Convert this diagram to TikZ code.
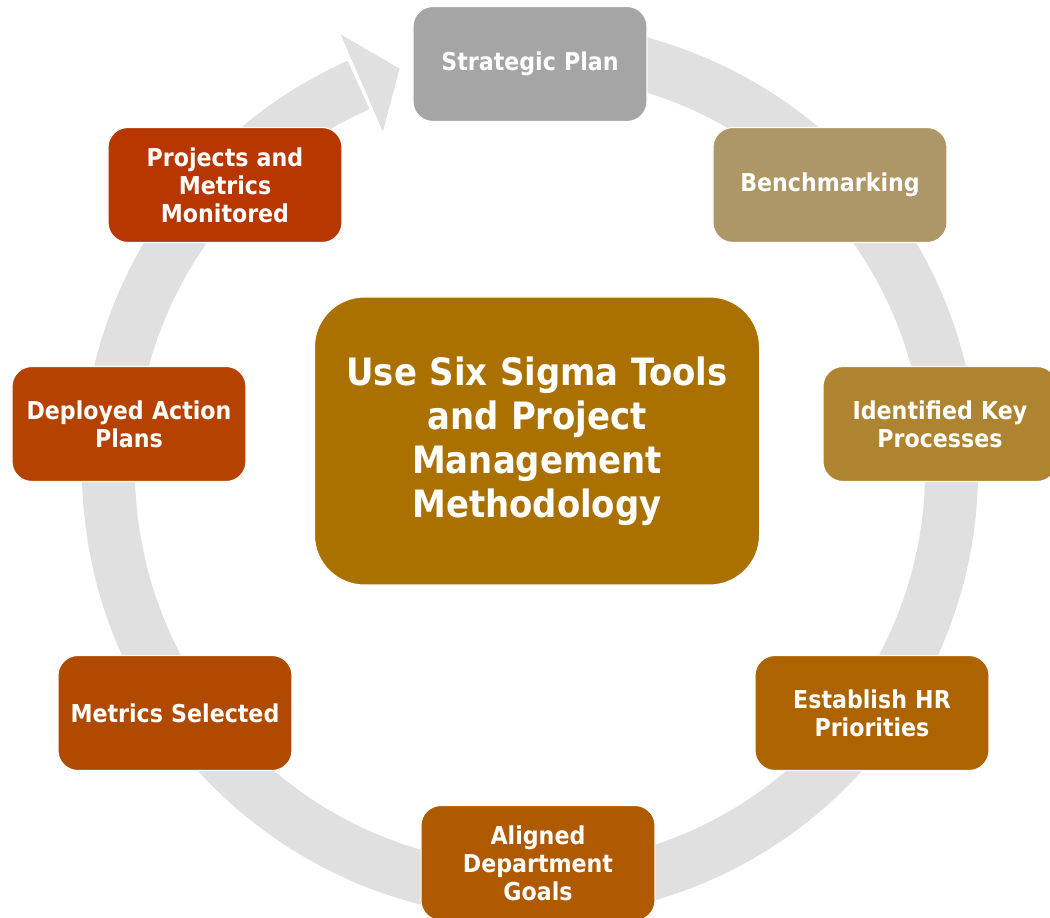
\documentclass[tikz,border=0pt]{standalone}
\usepackage{fontspec}
\setmainfont{DejaVu Sans Condensed}
\usetikzlibrary{shapes.geometric,arrows,positioning}
\definecolor{ringgray}{HTML}{E0E0E0}
\definecolor{plangray}{HTML}{A5A5A5}
\definecolor{benchtan}{HTML}{AD9767}
\definecolor{keyproc}{HTML}{AF8430}
\definecolor{hrprio}{HTML}{AD6400}
\definecolor{deptgoal}{HTML}{AF5900}
\definecolor{metsel}{HTML}{B04A00}
\definecolor{actplan}{HTML}{B54200}
\definecolor{monitor}{HTML}{B83600}
\definecolor{coregold}{HTML}{AA7100}

\begin{document}
\begin{tikzpicture}[x=0.025cm,y=0.025cm]
\tikzstyle{stage}=[rectangle, rounded corners=0.5cm, draw=white, line width=0.8pt,
	minimum width=5.85cm, minimum height=2.875cm, text width=5.6cm,
	align=center, text=white, font=\fontsize{17.5}{19.8}\selectfont\bfseries
]
\tikzstyle{core}=[rectangle, rounded corners=1.25cm, draw=white, line width=0.8pt,
	minimum width=11.125cm, minimum height=7.2cm, text width=10.8cm,
	align=center, text=white, fill=coregold,
	font=\fontsize{26.8}{31.2}\selectfont\bfseries
]
\clip (-530,-448) rectangle (520,470);
% cycle ring with its arrow head
\draw[ringgray, line width=1.325cm] (100:421.5) arc[start angle=100, end angle=-246, radius=421.5];
\fill[ringgray] (113.5:369) -- (108:422) -- (113.5:475) -- cycle;
% stages round the ring
\node[stage,fill=plangray] (plan) at (0,406) {Strategic Plan};
\node[stage,fill=benchtan] (bench) at (300,285) {Benchmarking};
\node[stage,fill=keyproc] (keyproc) at (410,46) {Identified Key\\Processes};
\node[stage,fill=hrprio] (hrprio) at (342,-243) {Establish HR\\Priorities};
\node[stage,fill=deptgoal] (goals) at (8,-393) {Aligned\\Department\\Goals};
\node[stage,fill=metsel] (metsel) at (-355,-243) {Metrics Selected};
\node[stage,fill=actplan] (actplan) at (-401,46) {Deployed Action\\Plans};
\node[stage,fill=monitor] (monitor) at (-305,285) {Projects and\\Metrics\\Monitored};
% centre box
\node[core] (tools) at (7,29) {Use Six Sigma Tools\\and Project\\Management\\Methodology};

\end{tikzpicture}
\end{document}
